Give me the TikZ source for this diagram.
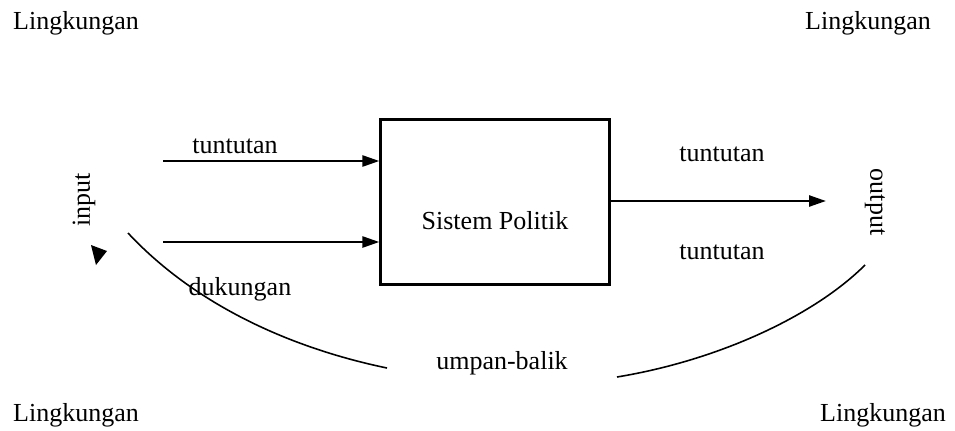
\documentclass[tikz,border=0pt]{standalone}
\usepackage{fontspec}
\setmainfont{Liberation Serif}
\usetikzlibrary{arrows.meta,positioning}

\begin{document}
\begin{tikzpicture}[x=0.02cm,y=-0.02cm,>={Triangle[length=0.34cm,width=0.22cm]},font=\fontsize{14.8}{17}\selectfont]
\tikzstyle{sys}=[rectangle,draw,line width=1.3pt,minimum width=4.58cm,minimum height=3.3cm,inner sep=0pt]
\tikzstyle{flow}=[->,line width=1.4pt]
\tikzstyle{fb}=[line width=0.9pt]
\useasboundingbox (0,0) rectangle (955,430);
% the four corners
\node (env1) at (76,23) {Lingkungan}; \node (env2) at (868,23) {Lingkungan};
\node (env3) at (76,415) {Lingkungan}; \node (env4) at (883,415) {Lingkungan};
% political system box
\node[sys] (S) at (495,202) {}; \node (Stxt) at (495,221) {Sistem Politik};
% inputs
\coordinate (in1) at (163,161); \coordinate (in2) at (163,242);
\draw[flow] (in1) -- (S.west |- in1);
\draw[flow] (in2) -- (S.west |- in2);
\node (dem) at (235,146) {tuntutan}; \node (sup) at (240,289) {dukungan};
\node[rotate=90] (inp) at (84,200) {input};
% outputs
\coordinate (out) at (826,201);
\draw[flow] (S.east |- out) -- (out);
\node (dec1) at (722,154) {tuntutan}; \node (dec2) at (722,252) {tuntutan};
\node[rotate=-90] (outp) at (875,202) {output};
% feedback
\node (fbtxt) at (502,363) {umpan-balik};
\coordinate (fa) at (128,233); \coordinate (fb) at (387,368);
\coordinate (fc) at (617,377); \coordinate (fd) at (865,265);
\draw[fb] (fa) .. controls (200,310) and (300,350) .. (fb);
\draw[fb] (fc) .. controls (720,360) and (815,315) .. (fd);
\fill (91,245) -- (107,251) -- (96,265) -- cycle;
\end{tikzpicture}
\end{document}
